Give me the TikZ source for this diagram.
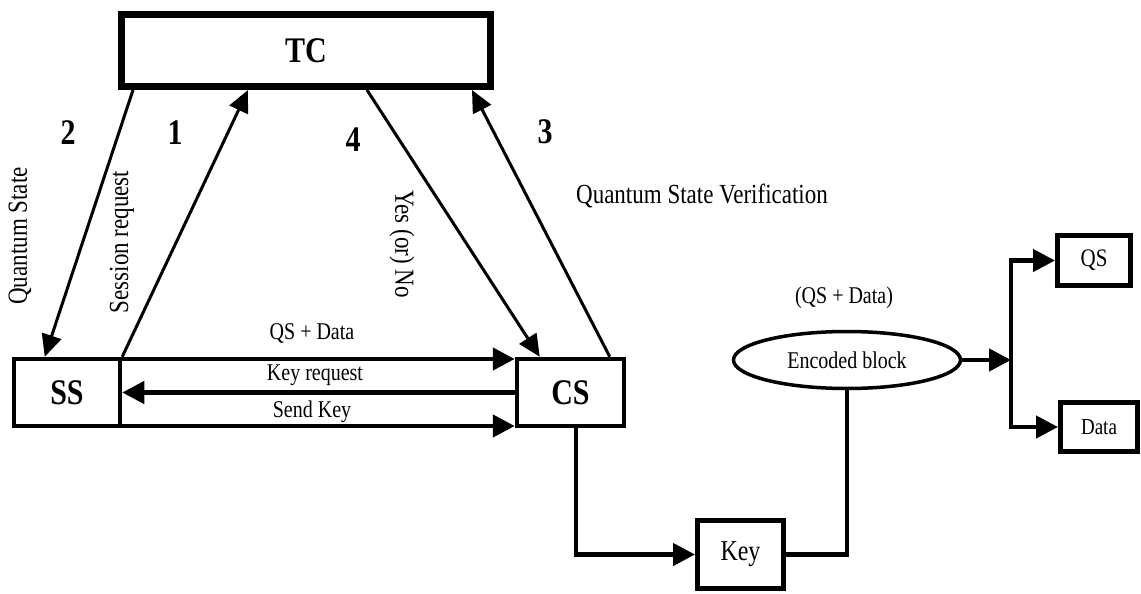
\documentclass[tikz,border=0pt]{standalone}
\usepackage{fontspec}
\usepackage{graphicx}
\setmainfont{Liberation Serif}
\usetikzlibrary{arrows.meta,shapes.geometric,calc}
\newcommand{\vstr}[1]{\scalebox{1}[1.2]{#1}}
\begin{document}
\begin{tikzpicture}[x=1pt,y=-1pt,
  box/.style={draw, line width=4.5pt, rectangle, inner sep=0pt},
  bigtxt/.style={font=\fontsize{30}{34}\selectfont\bfseries},
  lbl/.style={font=\fontsize{20}{24}\selectfont, inner sep=0pt},
  rlbl/.style={font=\fontsize{23}{27}\selectfont, inner sep=0pt},
  num/.style={font=\fontsize{30}{34}\selectfont\bfseries, inner sep=0pt},
  arr/.style={-{Triangle[length=22pt,width=20pt]}, line width=3pt},
  harr/.style={-{Triangle[length=22pt,width=22pt]}, line width=4.5pt},
  conn/.style={line width=4.5pt},
]
\useasboundingbox (0,0) rectangle (1141,594);
% boxes
\node[box, line width=7pt, minimum width=369pt, minimum height=72pt, bigtxt] (TC) at (306,50.5) {\vstr{TC}};
\node[box, minimum width=106pt, minimum height=67pt, bigtxt] (SS) at (67,392.5) {\vstr{SS}};
\node[box, minimum width=107pt, minimum height=67pt, bigtxt] (CS) at (570.5,392.5) {\vstr{CS}};
\node[box, line width=5pt, minimum width=86pt, minimum height=68pt, font=\fontsize{24}{28}\selectfont] (Key) at (740.5,554.5) {\vstr{Key}};
\node[box, line width=5pt, minimum width=73pt, minimum height=50pt, font=\fontsize{21}{25}\selectfont] (QS) at (1094,260.5) {\vstr{QS}};
\node[box, line width=5pt, minimum width=77pt, minimum height=49pt, font=\fontsize{19}{23}\selectfont] (Data) at (1099,427) {\vstr{Data}};
\node[ellipse, draw, line width=3.5pt, minimum width=227pt, minimum height=57pt, inner sep=0pt, font=\fontsize{20}{24}\selectfont] (Enc) at (847,360) {\vstr{Encoded block}};
% diagonal connectors
\draw[arr] ([xshift=15pt]TC.south west) -- ([xshift=33pt]SS.north west);
\draw[arr] (SS.north east) -- ([xshift=130pt]TC.south west);
\draw[arr] ([xshift=249pt]TC.south west) -- ([xshift=25pt]CS.north west);
\draw[arr] ([xshift=95pt]CS.north west) -- ([xshift=354pt]TC.south west);
% horizontal connectors
\draw[harr] ([yshift=-2.25pt]SS.north east) -- ([yshift=-2.25pt]CS.north west);
\draw[harr] (CS.west) -- (SS.east);
\draw[harr] ([yshift=2.25pt]SS.south east) -- ([yshift=2.25pt]CS.south west);
% right part
\coordinate (csb) at ([xshift=61pt]CS.south west);
\draw[harr] (csb) |- (Key.west);
\draw[conn] (Key.east) -| (Enc.south);
\coordinate (J) at (1011,360);
\draw[harr] (Enc.east) -- (J);
\draw[harr] (J) |- (QS.west);
\draw[harr] (J) |- (Data.west);
% labels
\node[lbl] (lqs) at (312,333) {\vstr{QS + Data}};
\node[lbl] (lkr) at (315,375) {\vstr{Key request}};
\node[lbl] (lsk) at (312,412) {\vstr{Send Key}};
\node[lbl] (lqsd) at (844,298) {\vstr{(QS + Data)}};
\node[rlbl] (lqsv) at (702,196) {\vstr{Quantum State Verification}};
\node[rlbl, rotate=90] (lqst) at (20,236) {\vstr{Quantum State}};
\node[rlbl, rotate=90] (lsr) at (122,242) {\vstr{Session request}};
\node[rlbl, rotate=-90] (lyn) at (402,244) {\vstr{Yes (or) No}};
\node[num] (n2) at (68,133) {\vstr{2}};
\node[num] (n1) at (175,133) {\vstr{1}};
\node[num] (n4) at (353,140) {\vstr{4}};
\node[num] (n3) at (545,132) {\vstr{3}};
\end{tikzpicture}
\end{document}
